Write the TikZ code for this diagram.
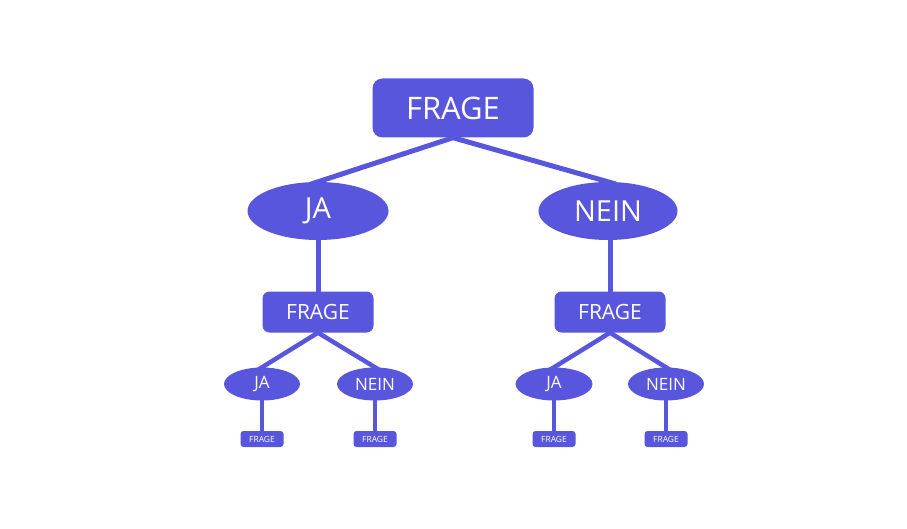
\documentclass[tikz,border=0pt]{standalone}
\usepackage{fontspec}
\setmainfont{Open Sans}
\usepackage{tikz}
\usetikzlibrary{shapes.geometric,positioning,backgrounds}
\definecolor{lila}{RGB}{88,86,220}
\tikzset{
  frage/.style={rectangle,rounded corners=#1,fill=lila,text=white,inner sep=0pt},
  antwort/.style={ellipse,fill=lila,text=white,inner sep=0pt},
  ast/.style={draw=lila,line width=#1}
}

\begin{document}
\begin{tikzpicture}[x=1pt,y=-1pt]
    \useasboundingbox (0,0) rectangle (907,529);
    % Wurzel
    \node[frage=10pt,minimum width=161pt,minimum height=59pt,font=\fontsize{31}{32}\selectfont] (F0) at (453,108) {FRAGE};
    % erste Ebene
    \node[antwort,minimum width=141pt,minimum height=58pt,font=\fontsize{29}{30}\selectfont] (J1) at (318,211) {JA};
    \node[antwort,minimum width=139pt,minimum height=58pt,font=\fontsize{29}{30}\selectfont] (N1) at (608,211) {NEIN};
    \node[frage=7pt,minimum width=111pt,minimum height=41pt,font=\fontsize{21}{22}\selectfont] (FJ) at (318,312) {FRAGE};
    \node[frage=7pt,minimum width=111pt,minimum height=41pt,font=\fontsize{21}{22}\selectfont] (FN) at (610,312) {FRAGE};
    % zweite Ebene
    \node[antwort,minimum width=76pt,minimum height=33pt,font=\fontsize{17}{18}\selectfont] (JJ) at (262,384) {JA};
    \node[antwort,minimum width=76pt,minimum height=33pt,font=\fontsize{17}{18}\selectfont] (JN) at (375,384) {NEIN};
    \node[antwort,minimum width=77pt,minimum height=33pt,font=\fontsize{17}{18}\selectfont] (NJ) at (554,384) {JA};
    \node[antwort,minimum width=76pt,minimum height=33pt,font=\fontsize{17}{18}\selectfont] (NN) at (666,384) {NEIN};
    \foreach \n/\x in {JJ/262,JN/375,NJ/554,NN/666}
      \node[frage=3pt,minimum width=43pt,minimum height=16pt,font=\fontsize{8.5}{9}\selectfont] (F\n) at (\x,439) {FRAGE};

    % Aeste hinter den Knoten
    \begin{scope}[on background layer]
      \draw[ast=5pt,shorten <=-8pt,shorten >=-8pt] (J1.north) -- (F0.south) -- (N1.north);
      \draw[ast=5pt] (J1.center) -- (FJ.center);
      \draw[ast=5pt] (FN.center |- N1.center) -- (FN.center);
      \draw[ast=4.5pt,shorten <=-6pt,shorten >=-6pt] (JJ.north) -- (FJ.south) -- (JN.north);
      \draw[ast=4.5pt,shorten <=-6pt,shorten >=-6pt] (NJ.north) -- (FN.south) -- (NN.north);
      \foreach \n in {JJ,JN,NJ,NN}
        \draw[ast=4pt] (\n.center) -- (F\n.center);
    \end{scope}
\end{tikzpicture}
\end{document}
